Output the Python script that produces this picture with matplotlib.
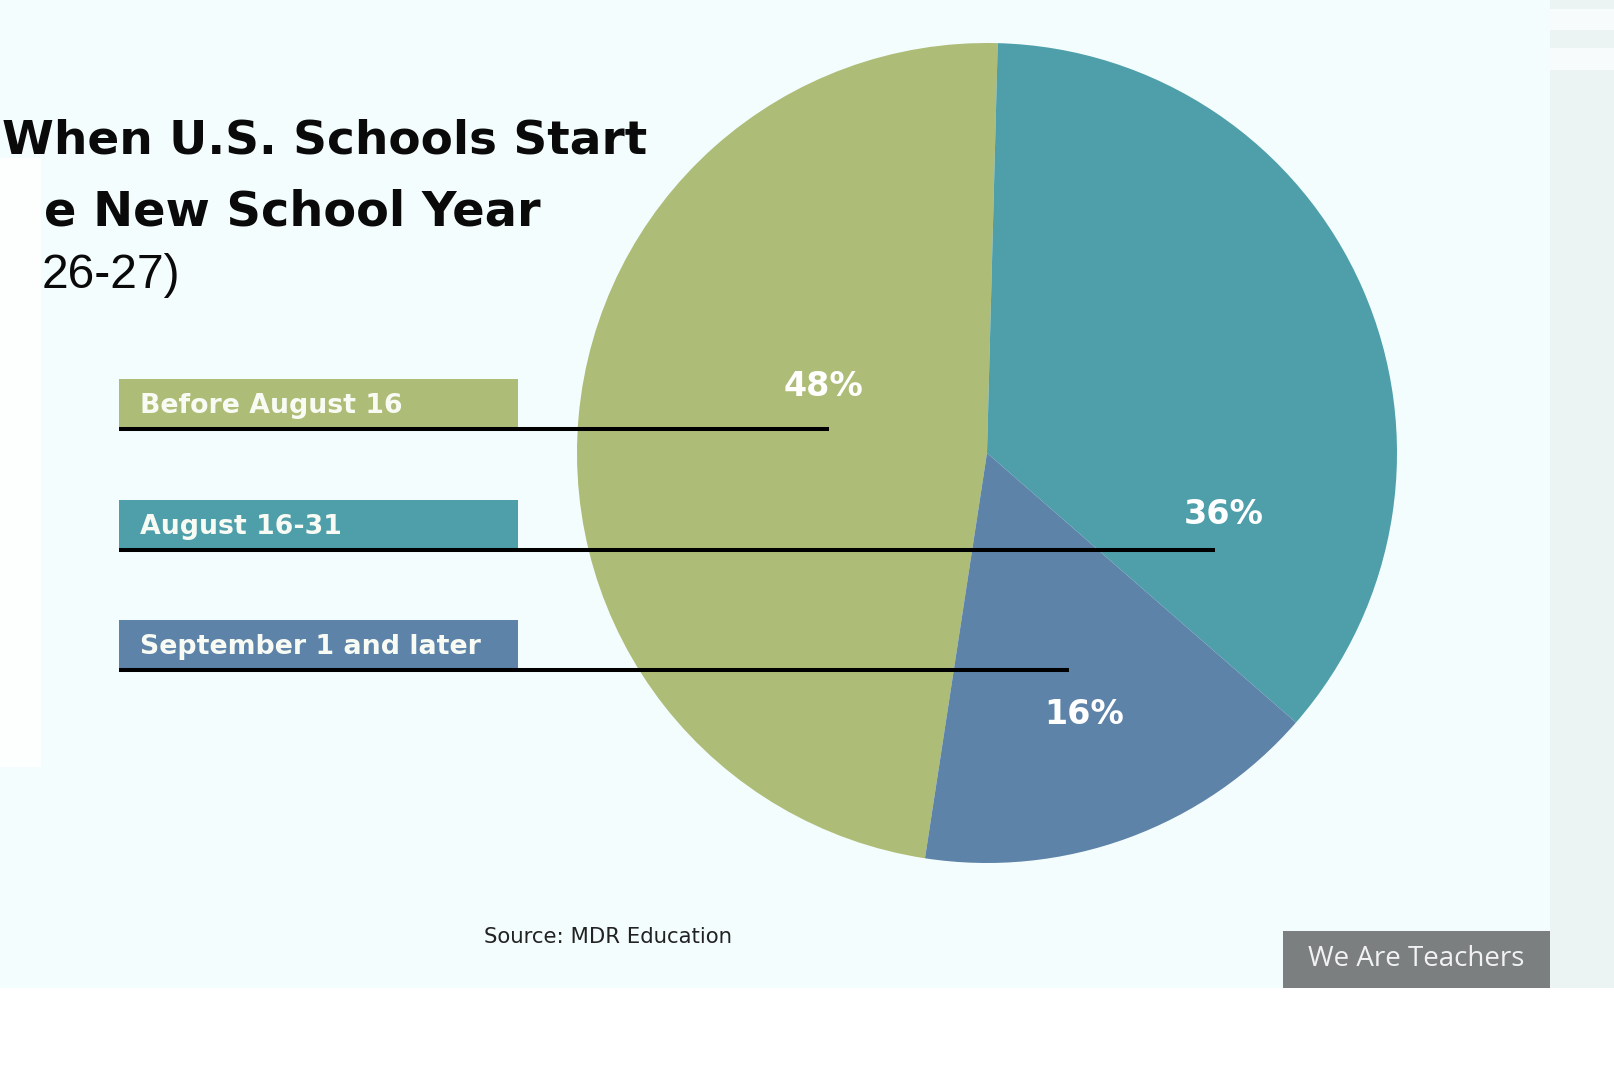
import matplotlib
matplotlib.use("Agg")
import matplotlib.pyplot as plt
from matplotlib.patches import Rectangle
from matplotlib.lines import Line2D

# ---- data ----
categories = ["Before August 16", "August 16-31", "September 1 and later"]
shares = [48, 36, 16]
colors = ["#adbc77", "#4f9fab", "#5e83a8"]
# title as visible in the reference (left part is cropped there)
title_lines = ["When U.S. Schools Start", "e New School Year", "26-27)"]
source_text = "Source: MDR Education"
brand_text = "We Are Teachers"

W, H = 1614, 1069
fig = plt.figure(figsize=(W / 100, H / 100), dpi=100)
fig.patch.set_facecolor("white")


def fx(p):
    return p / W


def fy(p):
    return 1 - p / H


def rect(x0, y0, x1, y1, color, z):
    fig.add_artist(Rectangle((fx(x0), fy(y1)), fx(x1) - fx(x0), fy(y0) - fy(y1),
                             transform=fig.transFigure, facecolor=color,
                             edgecolor="none", zorder=z))


# backgrounds
rect(0, 0, 1550, 988, "#f4fdfd", -10)
rect(1550, 0, 1614, 988, "#ebf3f3", -10)
rect(1550, 9, 1614, 30, "#f7fbfb", -9)
rect(1550, 48, 1614, 70, "#f7fbfb", -9)
# white strip at left edge
rect(0, 158, 41, 767, "#fdffff", -8)

# title
fig.text(fx(2), fy(154), title_lines[0], fontsize=33.8, fontweight="bold",
         family="DejaVu Sans", color="#0a0a0a", va="baseline", ha="left", zorder=1)
fig.text(fx(44), fy(226), title_lines[1], fontsize=34.5, fontweight="bold",
         family="DejaVu Sans", color="#0a0a0a", va="baseline", ha="left", zorder=1)
fig.text(fx(42), fy(288), title_lines[2], fontsize=34.6,
         family="Liberation Sans", color="#0a0a0a", va="baseline", ha="left", zorder=1)

# pie
cx, cy, r = 987, 453, 410
ax = fig.add_axes([fx(cx - r), fy(cy + r), 2 * r / W, 2 * r / H])
ax.pie(shares, colors=colors, startangle=261.3, counterclock=False,
       wedgeprops=dict(linewidth=0))
ax.set_xlim(-1, 1)
ax.set_ylim(-1, 1)
ax.set_aspect("equal")
ax.axis("off")
ax.patch.set_alpha(0)

label_pos = [(-0.40, 0.163), (0.578, -0.149), (0.237, -0.639)]
for (lx, ly), v in zip(label_pos, shares):
    ax.text(lx, ly, f"{v}%", color="white", fontsize=24, fontweight="bold",
            family="DejaVu Sans", ha="center", va="center")

# legend boxes and leader lines
box_tops = [379, 500, 620]
line_ends = [829, 1215, 1069]
for cat, col, top, end in zip(categories, colors, box_tops, line_ends):
    rect(119, top, 518, top + 48, col, 3)
    fig.text(fx(140), fy(top + 34), cat, fontsize=19.3, fontweight="bold",
             family="DejaVu Sans", color="#f8fbf4", va="baseline", ha="left", zorder=4)
    fig.add_artist(Line2D([fx(119), fx(end)], [fy(top + 50)] * 2,
                          transform=fig.transFigure, color="black",
                          linewidth=2.9, solid_capstyle="butt", zorder=5))

# source
fig.text(fx(484), fy(937), source_text, fontsize=15.3, family="DejaVu Sans",
         color="#222222", va="center", ha="left", zorder=1)

# brand box
rect(1283, 931, 1550, 988, "#7b7f80", 3)
fig.text(fx(1416), fy(959), brand_text, fontsize=20, family="Open Sans",
         color="#f2f2f2", va="center", ha="center", zorder=4)

fig.savefig("out.png", dpi=100, facecolor=fig.get_facecolor())
